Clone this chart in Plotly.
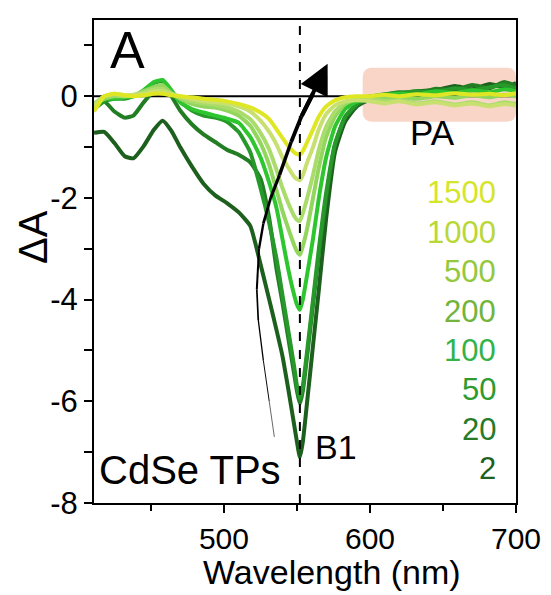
import plotly.graph_objects as go

# ---------------- data ----------------
wavelength = [411, 418, 425, 432, 438, 445, 452, 458, 464, 470, 478, 486, 494, 502, 510,
              518, 525, 531, 536, 540, 544, 548, 550, 552, 554, 557, 561, 565, 570, 576,
              583, 591, 600, 610, 620, 632, 645, 658, 670, 682, 692, 700]

dA_2 = [-0.72, -0.70, -0.92, -1.18, -1.22, -0.98, -0.66, -0.48, -0.68, -1.00, -1.38, -1.72, -1.95, -2.10, -2.28,
        -2.55, -3.30, -4.00, -4.60, -5.10, -5.75, -6.45, -6.80, -7.10, -6.80, -6.00, -4.90, -3.80, -2.40, -1.10,
        -0.50, -0.20, -0.06, 0.02, 0.05, 0.10, 0.12, 0.20, 0.14, 0.24, 0.18, 0.26]
dA_20 = [-0.15, -0.10, -0.30, -0.42, -0.38, -0.12, 0.10, 0.18, 0.00, -0.28, -0.55, -0.75, -0.90, -1.05, -1.15,
         -1.30, -1.62, -2.40, -3.40, -4.05, -4.75, -5.45, -5.80, -6.05, -5.80, -5.10, -4.10, -3.10, -2.00, -0.95,
         -0.42, -0.18, -0.04, 0.03, 0.08, 0.06, 0.15, 0.12, 0.22, 0.16, 0.28, 0.20]
dA_50 = [-0.25, -0.10, -0.05, -0.05, 0.00, 0.10, 0.26, 0.30, 0.10, -0.10, -0.28, -0.38, -0.42, -0.50, -0.70,
         -1.10, -1.80, -2.50, -3.20, -3.90, -4.60, -5.30, -5.70, -5.95, -5.70, -5.00, -4.00, -3.00, -1.90, -0.95,
         -0.40, -0.15, -0.02, 0.04, 0.06, 0.10, 0.08, 0.16, 0.12, 0.18, 0.22, 0.15]
dA_100 = [-0.20, -0.05, -0.05, -0.02, 0.00, 0.12, 0.28, 0.32, 0.12, -0.12, -0.25, -0.32, -0.38, -0.44, -0.52,
          -0.80, -1.20, -1.70, -2.20, -2.80, -3.40, -3.90, -4.10, -4.20, -4.00, -3.50, -2.80, -2.00, -1.20, -0.60,
          -0.25, -0.10, 0.00, 0.02, 0.05, 0.03, 0.10, 0.06, 0.12, 0.08, 0.14, 0.10]
dA_200 = [-0.15, -0.05, 0.00, 0.00, 0.02, 0.10, 0.18, 0.22, 0.06, -0.05, -0.15, -0.20, -0.22, -0.28, -0.38,
          -0.58, -0.92, -1.35, -1.85, -2.25, -2.60, -2.92, -3.05, -3.12, -2.95, -2.60, -2.00, -1.40, -0.80, -0.40,
          -0.15, -0.05, -0.02, -0.04, -0.02, -0.05, 0.00, -0.03, 0.02, -0.02, 0.03, 0.00]
dA_500 = [-0.15, 0.00, 0.02, 0.00, 0.02, 0.08, 0.14, 0.15, 0.05, -0.02, -0.10, -0.14, -0.17, -0.22, -0.30,
          -0.45, -0.72, -1.05, -1.45, -1.80, -2.10, -2.35, -2.43, -2.45, -2.30, -2.00, -1.55, -1.05, -0.60, -0.30,
          -0.12, -0.06, -0.06, -0.10, -0.08, -0.14, -0.10, -0.16, -0.12, -0.18, -0.12, -0.15]
dA_1000 = [-0.20, 0.00, 0.05, 0.02, 0.03, 0.05, 0.10, 0.10, 0.05, 0.00, -0.05, -0.10, -0.12, -0.15, -0.20,
           -0.30, -0.48, -0.70, -0.95, -1.20, -1.40, -1.58, -1.63, -1.65, -1.55, -1.30, -1.00, -0.65, -0.35, -0.18,
           -0.10, -0.08, -0.10, -0.14, -0.10, -0.16, -0.12, -0.18, -0.14, -0.20, -0.15, -0.18]
dA_1500 = [-0.30, 0.00, 0.05, 0.02, 0.00, 0.02, 0.05, 0.05, 0.02, 0.00, -0.02, -0.05, -0.07, -0.10, -0.15,
           -0.22, -0.32, -0.45, -0.65, -0.82, -0.98, -1.10, -1.14, -1.15, -1.08, -0.90, -0.65, -0.40, -0.20, -0.08,
           -0.02, 0.00, 0.00, 0.03, 0.00, 0.04, 0.02, 0.06, 0.03, 0.05, 0.02, 0.06]

delay_labels = ["2", "20", "50", "100", "200", "500", "1000", "1500"]
series = [dA_2, dA_20, dA_50, dA_100, dA_200, dA_500, dA_1000, dA_1500]
line_colors = ["#1d5f1d", "#237d23", "#26992a", "#2ec62e", "#93d65e", "#aadc6c", "#c8e070", "#dfe724"]
text_colors = ["#1f5f1f", "#277a27", "#2f9a2f", "#33b34a", "#72b43c", "#94c83d", "#b9d737", "#d4e52b"]

x_ticks = [500, 600, 700]
y_ticks = [-8, -6, -4, -2, 0]
y_ticktext = ["-8", "-6", "-4", "-2", "0"]

# arrow path (curved, tapering)
arrow_x = [534.5, 531.0, 527.0, 523.5, 522.5, 524.0, 527.0, 532.0, 538.0, 546.0, 553.0, 561.0]
arrow_y = [-6.70, -6.00, -5.20, -4.40, -3.80, -3.00, -2.50, -2.00, -1.55, -0.90, -0.40, 0.05]
arrow_tip = (571.0, 0.64)

FONT = "Liberation Sans, Arial, sans-serif"

fig = go.Figure()

# zero line
fig.add_trace(go.Scatter(x=[wavelength[0], wavelength[-1]], y=[0, 0], mode="lines",
                         line=dict(color="black", width=2), hoverinfo="skip", showlegend=False))

for lab, ys, col in zip(delay_labels, series, line_colors):
    fig.add_trace(go.Scatter(x=wavelength, y=ys, mode="lines", name=lab,
                             line=dict(color=col, width=4, shape="spline", smoothing=0.5),
                             showlegend=False))

# tapered arrow body
n = len(arrow_x) - 1
for i in range(n):
    w = 0.6 + 3.6 * i / (n - 1)
    fig.add_trace(go.Scatter(x=arrow_x[i:i + 2], y=arrow_y[i:i + 2], mode="lines",
                             line=dict(color="black", width=w), hoverinfo="skip", showlegend=False))

fig.add_annotation(x=arrow_tip[0], y=arrow_tip[1], ax=arrow_x[-2], ay=arrow_y[-2],
                   xref="x", yref="y", axref="x", ayref="y", showarrow=True,
                   arrowhead=2, arrowsize=1.5, arrowwidth=4, arrowcolor="black", text="")

# PA box (rounded)
x0, x1, y0, y1 = 595, 700, -0.5, 0.56
rx, ry = 6.5, 0.19
path = (f"M {x0+rx},{y0} L {x1-rx},{y0} Q {x1},{y0} {x1},{y0+ry} L {x1},{y1-ry} "
        f"Q {x1},{y1} {x1-rx},{y1} L {x0+rx},{y1} Q {x0},{y1} {x0},{y1-ry} "
        f"L {x0},{y0+ry} Q {x0},{y0} {x0+rx},{y0} Z")
fig.add_shape(type="path", path=path, xref="x", yref="y", fillcolor="#f8d5c7",
              line=dict(width=0), layer="below")

# dashed vertical line at B1
fig.add_shape(type="line", x0=552, x1=552, y0=-8, y1=1.5, xref="x", yref="y",
              line=dict(color="black", width=2, dash="dash"), layer="above")

# labels
fig.add_annotation(x=434, y=0.91, text="A", showarrow=False, font=dict(family=FONT, size=52, color="black"))
fig.add_annotation(x=643, y=-0.72, text="PA", showarrow=False, font=dict(family=FONT, size=35, color="black"))
fig.add_annotation(x=477, y=-7.36, text="CdSe TPs", showarrow=False, font=dict(family=FONT, size=40, color="black"))
fig.add_annotation(x=577, y=-6.9, text="B1", showarrow=False, font=dict(family=FONT, size=34, color="black"))

# delay legend (right-aligned text stack)
leg_top, leg_step = -1.90, -0.775
for k, (lab, col) in enumerate(zip(reversed(delay_labels), reversed(text_colors))):
    fig.add_annotation(x=688, y=leg_top + k * leg_step, text=lab, showarrow=False,
                       xanchor="right", yanchor="middle",
                       font=dict(family=FONT, size=31, color=col))

# axis titles as annotations
fig.add_annotation(x=0.565, y=-0.186, xref="paper", yref="paper", text="Wavelength (nm)",
                   showarrow=False, xanchor="center", yanchor="bottom",
                   font=dict(family=FONT, size=34, color="black"))
fig.add_annotation(x=-0.143, y=0.55, xref="paper", yref="paper", text="ΔA", textangle=-90,
                   showarrow=False, xanchor="center", yanchor="middle",
                   font=dict(family=FONT, size=40, color="black"))

# page body has an 8px margin, so the figure is sized to fit inside the 551x595 window
fig.update_layout(
    width=543, height=587,
    margin=dict(l=86, r=33, t=10, b=92),
    paper_bgcolor="white", plot_bgcolor="white",
    font=dict(family=FONT, color="black"),
    showlegend=False,
)
fig.update_xaxes(range=[411, 700], tickvals=x_ticks, ticks="outside", ticklen=8, tickwidth=2,
                 tickcolor="black", showline=True, linecolor="black", linewidth=2, mirror=True,
                 showgrid=False, zeroline=False, tickfont=dict(family=FONT, size=30),
                 minor=dict(tickmode="linear", tick0=450, dtick=100, ticks="outside", ticklen=6,
                            tickwidth=2, tickcolor="black", showgrid=False))
fig.update_yaxes(range=[-8, 1.5], tickvals=y_ticks, ticktext=y_ticktext, ticks="outside", ticklen=8,
                 tickwidth=2, tickcolor="black", showline=True, linecolor="black", linewidth=2,
                 mirror=True, showgrid=False, zeroline=False, tickfont=dict(family=FONT, size=31),
                 minor=dict(tickmode="linear", tick0=-7, dtick=2, ticks="outside", ticklen=8,
                            tickwidth=2, tickcolor="black", showgrid=False))

fig.write_html("out.html")
